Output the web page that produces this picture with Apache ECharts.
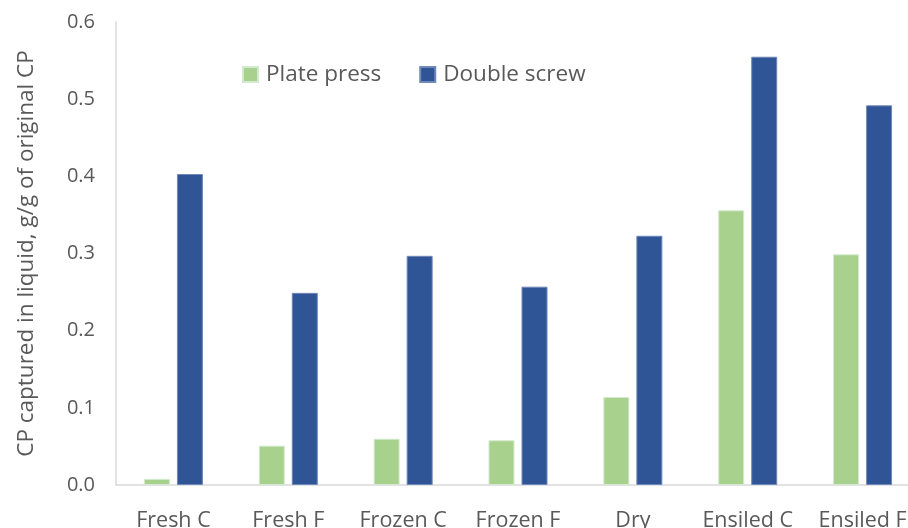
<!DOCTYPE html>
<html>
<head>
<meta charset="utf-8">
<script src="https://cdn.jsdelivr.net/npm/echarts@6/dist/echarts.min.js"></script>
<style>
  html, body { margin: 0; padding: 0; background: #ffffff; }
  #chart { width: 908px; height: 528px; }
</style>
</head>
<body>
<div id="chart"></div>
<script>
// Crude protein recovered in the liquid fraction, per pretreatment
const categories = ['Fresh C', 'Fresh F', 'Frozen C', 'Frozen F', 'Dry', 'Ensiled C', 'Ensiled F'];
const platePress = [0.008, 0.051, 0.060, 0.058, 0.114, 0.356, 0.299];
const doubleScrew = [0.403, 0.249, 0.297, 0.257, 0.323, 0.555, 0.492];
const seriesNames = ['Plate press', 'Double screw'];
const yTitle = 'CP captured in liquid, g/g of original CP';

const FONT = '"Open Sans", sans-serif';
const TEXT = '#595959';
const AXIS = '#d9d9d9';

const chart = echarts.init(document.getElementById('chart'), null, { renderer: 'canvas' });

chart.setOption({
  animation: false,
  backgroundColor: '#ffffff',
  textStyle: { fontFamily: FONT, color: TEXT },
  grid: {
    left: 116, top: 22, width: 804, bottom: 43,
    containLabel: false, outerBoundsMode: 'none'
  },
  legend: {
    data: seriesNames,
    left: 242,
    top: 63,
    padding: 0,
    itemWidth: 15,
    itemHeight: 15,
    itemGap: 38,
    icon: 'rect',
    textStyle: { fontFamily: FONT, fontSize: 22.5, color: TEXT, padding: [0, 0, 0, 3] }
  },
  xAxis: {
    type: 'category',
    data: categories,
    axisLine: { show: true, lineStyle: { color: AXIS, width: 1.5 } },
    axisTick: { show: false },
    axisLabel: {
      fontFamily: FONT, fontSize: 21.5, color: TEXT, margin: 25,
      interval: 0, hideOverlap: false
    },
    splitLine: { show: false }
  },
  yAxis: {
    type: 'value',
    min: 0,
    max: 0.6,
    interval: 0.1,
    name: yTitle,
    nameLocation: 'middle',
    nameGap: 78,
    nameTextStyle: { fontFamily: FONT, fontSize: 22.5, color: TEXT },
    axisLine: { show: true, lineStyle: { color: AXIS, width: 1.5 } },
    axisTick: { show: false },
    axisLabel: {
      fontFamily: FONT, fontSize: 20, color: TEXT, margin: 21,
      formatter: v => v.toFixed(1)
    },
    splitLine: { show: false }
  },
  series: [
    {
      name: seriesNames[0],
      type: 'bar',
      data: platePress,
      barWidth: 26,
      barGap: '27%',
      itemStyle: { color: '#a9d18e', borderColor: '#d4ead0', borderWidth: 1 }
    },
    {
      name: seriesNames[1],
      type: 'bar',
      data: doubleScrew,
      barWidth: 26,
      barGap: '27%',
      itemStyle: { color: '#2f5597', borderColor: '#6f88b8', borderWidth: 1 }
    }
  ]
});
</script>
</body>
</html>
